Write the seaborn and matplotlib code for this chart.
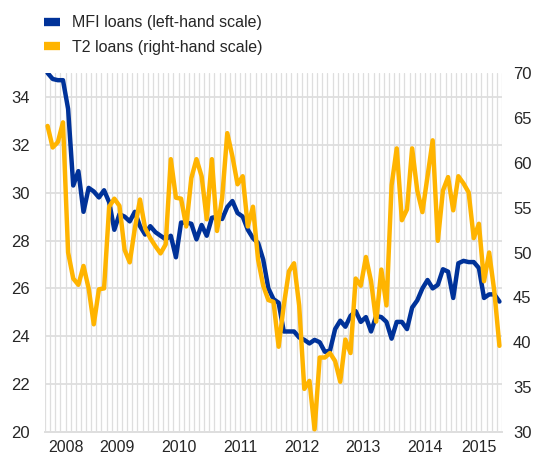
import numpy as np
import pandas as pd
import seaborn as sns
import matplotlib.pyplot as plt
from matplotlib.lines import Line2D

# monthly data, May 2008 - Sep 2015
months = pd.date_range('2008-05-01', '2015-09-01', freq='MS')

# MFI loans, left-hand scale
mfi = [35.0, 34.75, 34.7, 34.7, 33.5, 30.3, 30.9, 29.2, 30.2, 30.05,
       29.8, 30.1, 29.6, 28.45, 29.1, 29.0, 28.8, 29.2, 28.6, 28.25,
       28.6, 28.35, 28.2, 28.05, 28.2, 27.3, 28.75, 28.75, 28.7, 28.05,
       28.65, 28.2, 28.95, 29.0, 28.9, 29.4, 29.65, 29.15, 29.0, 28.45,
       28.1, 27.9, 27.2, 26.0, 25.55, 25.4, 24.2, 24.2, 24.2, 23.95,
       23.85, 23.7, 23.85, 23.75, 23.35, 23.4, 24.3, 24.65, 24.4, 24.85,
       25.05, 24.6, 24.8, 24.2, 24.85, 24.8, 24.6, 23.9, 24.6, 24.6,
       24.3, 25.2, 25.5, 26.0, 26.35, 26.0, 26.15, 26.8, 26.7, 25.6,
       27.05, 27.15, 27.1, 27.1, 26.85, 25.6, 25.75, 25.75, 25.45]

# T2 loans, right-hand scale
t2 = [64.1, 61.7, 62.3, 64.5, 50.0, 47.1, 46.4, 48.5, 46.0, 42.0,
      45.9, 46.0, 55.1, 56.0, 55.2, 50.3, 48.9, 52.7, 55.9, 52.7,
      51.6, 50.7, 49.9, 50.9, 60.4, 56.1, 56.0, 52.9, 58.3, 60.4,
      58.5, 53.7, 60.4, 52.4, 56.1, 63.3, 60.7, 57.6, 58.5, 52.9,
      55.1, 49.2, 46.3, 44.7, 44.5, 39.5, 44.1, 47.9, 48.8, 44.1,
      34.8, 35.7, 30.3, 38.3, 38.3, 38.8, 37.9, 35.6, 40.3, 38.8,
      47.1, 46.3, 49.5, 46.8, 42.3, 48.1, 44.1, 57.5, 61.6, 53.6,
      54.8, 61.6, 56.9, 54.5, 58.5, 62.5, 51.3, 56.9, 58.4, 54.7,
      58.5, 57.7, 56.7, 51.6, 53.2, 46.8, 50.0, 45.7, 39.6]

labels = ['MFI loans (left-hand scale)', 'T2 loans (right-hand scale)']
blue = '#003299'
yellow = '#FFB400'
grid_col = '#dedede'

df = pd.DataFrame({'pos': np.arange(len(months)), 'year': months.year,
                   'mfi': mfi, 't2': t2})
n = len(df)

sns.set_style('white')
plt.rcParams['font.family'] = ['Liberation Sans', 'DejaVu Sans']

fig = plt.figure(figsize=(5.36, 4.61), dpi=100)
ax = fig.add_axes([45 / 536, 1 - 432 / 461, 457 / 536, 359 / 461])
ax2 = ax.twinx()

# monthly vertical grid
for b in np.arange(-0.5, n, 1.0):
    ax.axvline(b, color=grid_col, lw=0.9, zorder=0)

sns.lineplot(data=df, x='pos', y='mfi', ax=ax, color=blue, lw=3.2, zorder=3)
sns.lineplot(data=df, x='pos', y='t2', ax=ax2, color=yellow, lw=3.2, zorder=3)

ax.set_xlim(-0.5, n - 0.5)
ax.set_ylim(20, 35)
ax2.set_ylim(30, 70)
ax.set_yticks(range(20, 35, 2))
ax2.set_yticks(range(30, 71, 5))
ax.yaxis.grid(True, color=grid_col, lw=1.3)
ax.set_axisbelow(True)

# year boundaries as ticks, year labels in between
bounds = [-0.5] + list(df.loc[df['pos'].gt(0) & (months.month == 1), 'pos'] - 0.5) + [n - 0.5]
centres = df.groupby('year')['pos'].mean()
ax.set_xticks(bounds)
ax.set_xticklabels([])
ax.set_xticks(centres.values, minor=True)
ax.set_xticklabels(centres.index.astype(str), minor=True)
ax.tick_params(axis='x', which='major', length=21, width=1.2, color=grid_col, direction='out')
ax.tick_params(axis='x', which='minor', length=0, pad=6, labelsize=11.5)
ax.tick_params(axis='y', length=0, pad=11, labelsize=12)
ax2.tick_params(axis='y', length=0, pad=8, labelsize=12)

for a in (ax, ax2):
    for s in ['top', 'left', 'right']:
        a.spines[s].set_visible(False)
    a.spines['bottom'].set_color(grid_col)
    a.spines['bottom'].set_linewidth(1.3)
    a.set_xlabel('')
    a.set_ylabel('')

handles = [Line2D([], [], color=blue, lw=6, solid_capstyle='butt'),
           Line2D([], [], color=yellow, lw=6, solid_capstyle='butt')]
fig.legend(handles, labels, loc='upper left', bbox_to_anchor=(0.056, 0.998),
           frameon=False, handlelength=0.95, handletextpad=0.75,
           labelspacing=0.6, fontsize=11.5)

plt.savefig('out.png', dpi=100)
